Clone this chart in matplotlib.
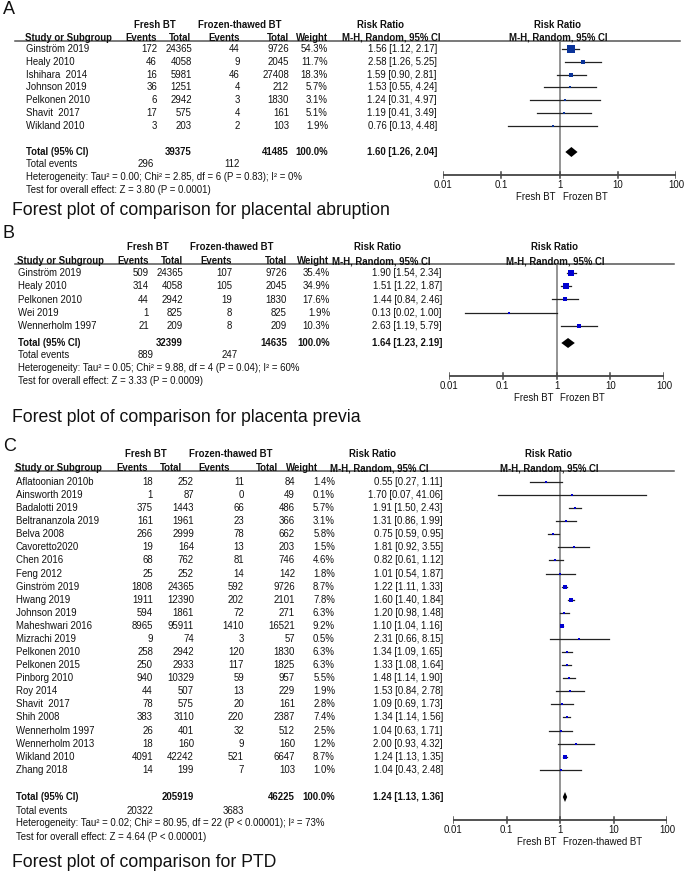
import matplotlib
matplotlib.use("Agg")
import matplotlib.pyplot as plt

plt.rcParams["font.family"] = ["Liberation Sans", "DejaVu Sans"]

W, H = 685, 872
FS = 6.9

# ---------------- A: placental abruption ----------------
a_study = ["Ginström 2019", "Healy 2010", "Ishihara  2014", "Johnson 2019",
           "Pelkonen 2010", "Shavit  2017", "Wikland 2010"]
a_ev1 = [172, 46, 16, 36, 6, 17, 3]
a_tot1 = [24365, 4058, 5981, 1251, 2942, 575, 203]
a_ev2 = [44, 9, 46, 4, 3, 4, 2]
a_tot2 = [9726, 2045, 27408, 212, 1830, 161, 103]
a_w = [54.3, 11.7, 18.3, 5.7, 3.1, 5.1, 1.9]
a_rr = [1.56, 2.58, 1.59, 1.53, 1.24, 1.19, 0.76]
a_lo = [1.12, 1.26, 0.90, 0.55, 0.31, 0.41, 0.13]
a_hi = [2.17, 5.25, 2.81, 4.24, 4.97, 3.49, 4.48]
a_total = (39375, 41485, 1.60, 1.26, 2.04)
a_events = (296, 112)
a_het = "Heterogeneity: Tau² = 0.00; Chi² = 2.85, df = 6 (P = 0.83); I² = 0%"
a_test = "Test for overall effect: Z = 3.80 (P = 0.0001)"

# ---------------- B: placenta previa ----------------
b_study = ["Ginström 2019", "Healy 2010", "Pelkonen 2010", "Wei 2019", "Wennerholm 1997"]
b_ev1 = [509, 314, 44, 1, 21]
b_tot1 = [24365, 4058, 2942, 825, 209]
b_ev2 = [107, 105, 19, 8, 8]
b_tot2 = [9726, 2045, 1830, 825, 209]
b_w = [35.4, 34.9, 17.6, 1.9, 10.3]
b_rr = [1.90, 1.51, 1.44, 0.13, 2.63]
b_lo = [1.54, 1.22, 0.84, 0.02, 1.19]
b_hi = [2.34, 1.87, 2.46, 1.00, 5.79]
b_total = (32399, 14635, 1.64, 1.23, 2.19)
b_events = (889, 247)
b_het = "Heterogeneity: Tau² = 0.05; Chi² = 9.88, df = 4 (P = 0.04); I² = 60%"
b_test = "Test for overall effect: Z = 3.33 (P = 0.0009)"

# ---------------- C: PTD ----------------
c_study = ["Aflatoonian 2010b", "Ainsworth 2019", "Badalotti 2019", "Beltrananzola 2019",
           "Belva 2008", "Cavoretto2020", "Chen 2016", "Feng 2012", "Ginström 2019",
           "Hwang 2019", "Johnson 2019", "Maheshwari 2016", "Mizrachi 2019",
           "Pelkonen 2010", "Pelkonen 2015", "Pinborg 2010", "Roy 2014", "Shavit  2017",
           "Shih 2008", "Wennerholm 1997", "Wennerholm 2013", "Wikland 2010", "Zhang 2018"]
c_ev1 = [18, 1, 375, 161, 266, 19, 68, 25, 1808, 1911, 594, 8965, 9,
         258, 250, 940, 44, 78, 383, 26, 18, 4091, 14]
c_tot1 = [252, 87, 1443, 1961, 2999, 164, 762, 252, 24365, 12390, 1861, 95911, 74,
          2942, 2933, 10329, 507, 575, 3110, 401, 160, 42242, 199]
c_ev2 = [11, 0, 66, 23, 78, 13, 81, 14, 592, 202, 72, 1410, 3,
         120, 117, 59, 13, 20, 220, 32, 9, 521, 7]
c_tot2 = [84, 49, 486, 366, 662, 203, 746, 142, 9726, 2101, 271, 16521, 57,
          1830, 1825, 957, 229, 161, 2387, 512, 160, 6647, 103]
c_w = [1.4, 0.1, 5.7, 3.1, 5.8, 1.5, 4.6, 1.8, 8.7, 7.8, 6.3, 9.2, 0.5,
       6.3, 6.3, 5.5, 1.9, 2.8, 7.4, 2.5, 1.2, 8.7, 1.0]
c_rr = [0.55, 1.70, 1.91, 1.31, 0.75, 1.81, 0.82, 1.01, 1.22, 1.60, 1.20, 1.10, 2.31,
        1.34, 1.33, 1.48, 1.53, 1.09, 1.34, 1.04, 2.00, 1.24, 1.04]
c_lo = [0.27, 0.07, 1.50, 0.86, 0.59, 0.92, 0.61, 0.54, 1.11, 1.40, 0.98, 1.04, 0.66,
        1.09, 1.08, 1.14, 0.84, 0.69, 1.14, 0.63, 0.93, 1.13, 0.43]
c_hi = [1.11, 41.06, 2.43, 1.99, 0.95, 3.55, 1.12, 1.87, 1.33, 1.84, 1.48, 1.16, 8.15,
        1.65, 1.64, 1.90, 2.78, 1.73, 1.56, 1.71, 4.32, 1.35, 2.48]
c_total = (205919, 46225, 1.24, 1.13, 1.36)
c_events = (20322, 3683)
c_het = "Heterogeneity: Tau² = 0.02; Chi² = 80.95, df = 22 (P < 0.00001); I² = 73%"
c_test = "Test for overall effect: Z = 4.64 (P < 0.00001)"

fig = plt.figure(figsize=(W / 100, H / 100), dpi=100)
bg = fig.add_axes([0, 0, 1, 1])
bg.set_xlim(0, W)
bg.set_ylim(H, 0)
bg.axis("off")


def txt(x, y, s, ha="left", bold=False, size=FS):
    bg.text(x, y, s, ha=ha, va="center", fontsize=size,
            fontweight="bold" if bold else "normal", color="#111111")


def panel(letter, title, L, study, ev1, tot1, ev2, tot2, w, rr, lo, hi,
          total, events, het, test, sq_color, right_label):
    txt(3, L["letter"], letter, size=13)
    # headers
    h1, h2 = L["h1"], L["h2"]
    txt(L["c_fresh"], h1, "Fresh BT", ha="center", bold=True)
    txt(L["c_frozen"], h1, "Frozen-thawed BT", ha="center", bold=True)
    txt(L["c_rr"], h1, "Risk Ratio", ha="center", bold=True)
    txt(L["c_fp"], h1, "Risk Ratio", ha="center", bold=True)
    txt(L["hx"][0], h2, "Study or Subgroup", bold=True)
    txt(L["hx"][1], h2, "Events", ha="right", bold=True)
    txt(L["hx"][2], h2, "Total", ha="right", bold=True)
    txt(L["hx"][3], h2, "Events", ha="right", bold=True)
    txt(L["hx"][4], h2, "Total", ha="right", bold=True)
    txt(L["hx"][5], h2, "Weight", ha="right", bold=True)
    txt(L["hx"][6], h2, "M-H, Random, 95% CI", bold=True)
    txt(L["c_fp"], h2, "M-H, Random, 95% CI", ha="center", bold=True)
    bg.plot([15, L["line_end"]], [L["line"], L["line"]], color="#555555", lw=1.1)

    cx = L["cols"]
    rows = [L["y0"] + i * L["dy"] for i in range(len(study))]
    for i, y in enumerate(rows):
        txt(cx[0], y, study[i])
        txt(cx[1], y, str(ev1[i]), ha="right")
        txt(cx[2], y, str(tot1[i]), ha="right")
        txt(cx[3], y, str(ev2[i]), ha="right")
        txt(cx[4], y, str(tot2[i]), ha="right")
        txt(cx[5], y, f"{w[i]:.1f}%", ha="right")
        txt(cx[6], y, f"{rr[i]:.2f} [{lo[i]:.2f}, {hi[i]:.2f}]", ha="right")

    yt = L["total"]
    txt(cx[0], yt, "Total (95% CI)", bold=True)
    txt(cx[2], yt, str(total[0]), ha="right", bold=True)
    txt(cx[4], yt, str(total[1]), ha="right", bold=True)
    txt(cx[5], yt, "100.0%", ha="right", bold=True)
    txt(cx[6], yt, f"{total[2]:.2f} [{total[3]:.2f}, {total[4]:.2f}]", ha="right", bold=True)
    txt(cx[0], L["tev"], "Total events")
    txt(L["tev_x"][0], L["tev"], str(events[0]), ha="right")
    txt(L["tev_x"][1], L["tev"], str(events[1]), ha="right")
    txt(cx[0], L["het"], het)
    txt(cx[0], L["test"], test)
    txt(12, L["title"], title, size=12.7)

    # forest plot
    x0, x1 = L["fx"]
    ytop, ybot = L["line"], L["axis"] + 30
    ax = fig.add_axes([x0 / W, 1 - ybot / H, (x1 - x0) / W, (ybot - ytop) / H])
    ax.set_xscale("log")
    ax.set_xlim(0.01, 100)
    ax.set_ylim(ybot, ytop)
    ax.axis("off")
    ya = L["axis"]
    ax.plot([1, 1], [ytop, ya], color="#777777", lw=1.1)
    for i, y in enumerate(rows):
        ax.plot([lo[i], hi[i]], [y, y], color="#222222", lw=0.9)
        side = max(2.3, 1.1 * w[i] ** 0.5)
        ax.plot(rr[i], y, marker="s", ms=side * 0.72, color=sq_color,
                mec=sq_color, mew=0)
    ax.fill([total[3], total[2], total[4], total[2]],
            [yt, yt - 5, yt, yt + 5], color="black", lw=0)
    ax.plot([0.01, 100], [ya, ya], color="#444444", lw=1.3)
    for v, lab in zip([0.01, 0.1, 1, 10, 100], ["0.01", "0.1", "1", "10", "100"]):
        ax.plot([v, v], [ya - 3, ya + 3], color="#444444", lw=1.1)
        ax.text(v, ya + 10, lab, ha="center", va="center", fontsize=FS, color="#111111")
    ax.text(0.87, ya + 22, "Fresh BT", ha="right", va="center", fontsize=FS, color="#111111")
    ax.text(1.15, ya + 22, right_label, ha="left", va="center", fontsize=FS, color="#111111")


LA = dict(letter=9, h1=25, h2=38, line=41, line_end=680, y0=49, dy=12.8,
          c_fresh=155, c_frozen=240, c_rr=381, c_fp=558,
          hx=[25, 157, 191, 240, 289, 328, 342],
          cols=[26, 157, 192, 240, 289, 328, 437],
          total=152, tev=164, tev_x=[154, 240], het=177, test=190,
          axis=175, fx=(443, 676), title=210)
LB = dict(letter=233, h1=247, h2=261, line=264, line_end=674, y0=273, dy=13.25,
          c_fresh=148, c_frozen=232, c_rr=378, c_fp=555,
          hx=[17, 149, 183, 232, 287, 329, 332],
          cols=[18, 149, 183, 232, 287, 330, 442],
          total=343, tev=355, tev_x=[154, 238], het=368, test=381,
          axis=376, fx=(449, 664), title=417)
LC = dict(letter=446, h1=454, h2=468, line=471, line_end=674, y0=482, dy=13.08,
          c_fresh=146, c_frozen=231, c_rr=373, c_fp=549,
          hx=[15, 148, 182, 230, 278, 318, 330],
          cols=[16, 153, 194, 244, 295, 335, 443],
          total=797, tev=811, tev_x=[153, 244], het=823, test=837,
          axis=820, fx=(453, 667), title=862)

panel("A", "Forest plot of comparison for placental abruption", LA,
      a_study, a_ev1, a_tot1, a_ev2, a_tot2, a_w, a_rr, a_lo, a_hi,
      a_total, a_events, a_het, a_test, "#0a3399", "Frozen BT")
panel("B", "Forest plot of comparison for placenta previa", LB,
      b_study, b_ev1, b_tot1, b_ev2, b_tot2, b_w, b_rr, b_lo, b_hi,
      b_total, b_events, b_het, b_test, "#0000d0", "Frozen BT")
panel("C", "Forest plot of comparison for PTD", LC,
      c_study, c_ev1, c_tot1, c_ev2, c_tot2, c_w, c_rr, c_lo, c_hi,
      c_total, c_events, c_het, c_test, "#0000d0", "Frozen-thawed BT")

fig.savefig("out.png", dpi=100)
